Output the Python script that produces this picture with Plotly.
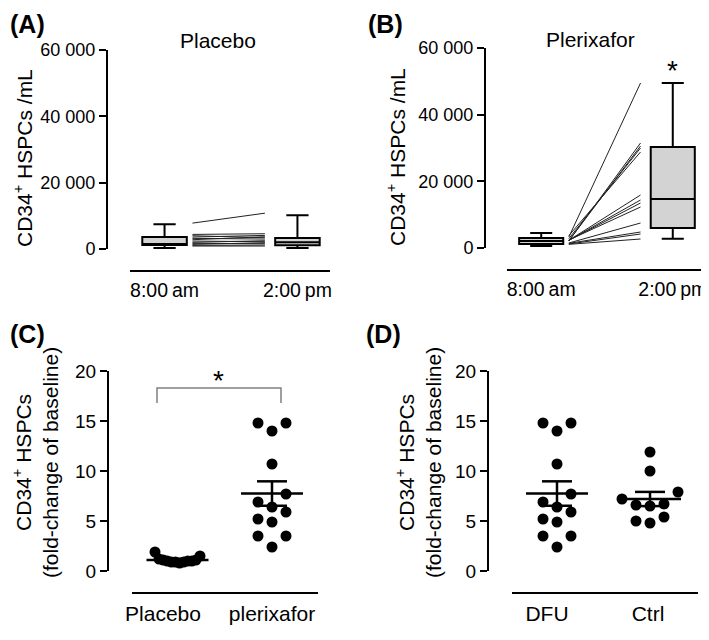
import numpy as np
import plotly.graph_objects as go

# ---------------- data ----------------
time_labels = ["8:00\u2009am", "2:00\u2009pm"]

# Panel A: placebo, box stats at 8:00 am and 2:00 pm
placebo_lower = [300, 300]
placebo_q1 = [1200, 1100]
placebo_median = [1500, 2000]
placebo_q3 = [3600, 3300]
placebo_upper = [7500, 10200]
# paired subject values
placebo_am = [7800, 4400, 4000, 3600, 3200, 2800, 2400, 2000, 1700, 1400, 1100, 900]
placebo_pm = [10800, 4600, 3400, 4100, 3000, 3700, 2200, 2500, 1600, 1900, 1200, 900]

# Panel B: plerixafor
plerixafor_lower = [600, 2800]
plerixafor_q1 = [1200, 6000]
plerixafor_median = [2100, 14700]
plerixafor_q3 = [3000, 30300]
plerixafor_upper = [4500, 49500]
plerixafor_am = [3300, 2100, 2200, 2800, 3700, 2300, 2300, 2300, 2400, 1500, 1400, 1200, 1100]
plerixafor_pm = [49500, 31500, 30600, 30000, 28800, 15900, 14400, 13500, 12300, 7500, 4800, 4200, 2700]

count_ticks = [0, 20000, 40000, 60000]
count_tick_text = ["0", "20 000", "40 000", "60 000"]

# Panel C / D: fold change of baseline
fold_ticks = [0, 5, 10, 15, 20]
group_labels_c = ["Placebo", "plerixafor"]
group_labels_d = ["DFU", "Ctrl"]
fold_placebo = [1.9, 1.5, 1.2, 1.1, 1.1, 1.0, 1.0, 1.0, 0.9, 0.9, 0.9, 0.8]
fold_plerixafor = [14.8, 14.8, 14.0, 10.7, 7.7, 6.9, 6.4, 5.9, 5.2, 4.9, 3.5, 3.5, 2.4]
fold_dfu = [14.8, 14.8, 14.0, 10.7, 7.7, 6.9, 6.4, 5.9, 5.2, 4.9, 3.5, 3.5, 2.4]
fold_ctrl = [11.9, 10.0, 7.9, 7.2, 6.7, 6.6, 6.5, 5.4, 5.0, 4.8]

# ---------------- layout helpers ----------------
W, H = 709, 640
PAGE_OFF = 8  # the page body margin shifts the figure by this many pixels
FONT = "Liberation Sans, Arial, sans-serif"


def fx(p):
    return (p - PAGE_OFF) / W


def fy(p):
    return 1 - (p - PAGE_OFF) / H


def swarm(values, step, max_half, row_gap=1.5):
    """Deterministic beeswarm-style horizontal offsets (in x units)."""
    vals = np.asarray(values, float)
    order = sorted(range(len(vals)), key=lambda i: -vals[i])
    rows, cur = [], []
    for i in order:
        if cur and vals[cur[0]] - vals[i] > row_gap:
            rows.append(cur)
            cur = []
        cur.append(i)
    if cur:
        rows.append(cur)
    off = np.zeros(len(vals))
    for row in rows:
        row = sorted(row, key=lambda i: (vals[i], i))
        n = len(row)
        s = step
        if n > 1 and (n - 1) / 2 * step > max_half:
            s = max_half / ((n - 1) / 2)
        if n % 2:
            slots = [0]
            k = 1
            while len(slots) < n:
                slots += [-k, k]
                k += 1
        else:
            slots = []
            k = 0.5
            while len(slots) < n:
                slots += [k, -k]
                k += 1
        for i, sl in zip(row, slots[:n]):
            off[i] = sl * s
    return off


fig = go.Figure()

axis_common = dict(showgrid=False, zeroline=False, showline=True, linecolor="black",
                   linewidth=2, mirror=False, automargin=False)

# -------- Panels A and B --------
box_x = [0, 1]
line_x = [0.21, 0.755]
xr_ab = [-0.26, 1.245]

panels_ab = [
    ("x", "y", placebo_lower, placebo_q1, placebo_median, placebo_q3, placebo_upper,
     placebo_am, placebo_pm),
    ("x2", "y2", plerixafor_lower, plerixafor_q1, plerixafor_median, plerixafor_q3,
     plerixafor_upper, plerixafor_am, plerixafor_pm),
]
for xa, ya, lo, q1, me, q3, up, am, pm in panels_ab:
    for a, b in zip(am, pm):
        fig.add_trace(go.Scatter(x=line_x, y=[a, b], mode="lines",
                                 line=dict(color="#222222", width=1),
                                 xaxis=xa, yaxis=ya, showlegend=False, hoverinfo="skip"))
    fig.add_trace(go.Box(x=box_x, q1=q1, median=me, q3=q3, lowerfence=lo, upperfence=up,
                         width=0.335, whiskerwidth=0.5, fillcolor="#d3d3d3",
                         line=dict(color="black", width=2), boxpoints=False,
                         xaxis=xa, yaxis=ya, showlegend=False))

# -------- Panels C and D --------
def add_scatter_group(xa, ya, center, vals, step, max_half, px_per_unit):
    vals = np.asarray(vals, float)
    mean = vals.mean()
    sem = vals.std(ddof=1) / np.sqrt(len(vals))
    half_mean = 31 / px_per_unit
    half_cap = 15 / px_per_unit
    fig.add_trace(go.Scatter(x=[center - half_mean, center + half_mean], y=[mean, mean],
                             mode="lines", line=dict(color="black", width=2.5),
                             xaxis=xa, yaxis=ya, showlegend=False, hoverinfo="skip"))
    for yy in (mean - sem, mean + sem):
        fig.add_trace(go.Scatter(x=[center - half_cap, center + half_cap], y=[yy, yy],
                                 mode="lines", line=dict(color="black", width=2.5),
                                 xaxis=xa, yaxis=ya, showlegend=False, hoverinfo="skip"))
    fig.add_trace(go.Scatter(x=[center, center], y=[mean - sem, mean + sem],
                             mode="lines", line=dict(color="black", width=2.5),
                             xaxis=xa, yaxis=ya, showlegend=False, hoverinfo="skip"))
    off = swarm(vals, step / px_per_unit, max_half / px_per_unit)
    fig.add_trace(go.Scatter(x=center + off, y=vals, mode="markers",
                             marker=dict(color="black", size=11, line=dict(width=0)),
                             xaxis=xa, yaxis=ya, showlegend=False, cliponaxis=False))


ppu_c = 94.5
ppu_d = 93.0
add_scatter_group("x3", "y3", 0, fold_placebo, 14, 22.5, ppu_c)
add_scatter_group("x3", "y3", 1, fold_plerixafor, 14, 40, ppu_c)
add_scatter_group("x4", "y4", 0, fold_dfu, 14, 40, ppu_d)
add_scatter_group("x4", "y4", 1, fold_ctrl, 14, 40, ppu_d)

# -------- axes --------
tickfont_ab = dict(family=FONT, size=18, color="black")
tickfont_cd = dict(family=FONT, size=19, color="black")
xlabfont_ab = dict(family=FONT, size=19.5, color="black")
xlabfont_cd = dict(family=FONT, size=21, color="black")

y_common = dict(axis_common, ticks="outside", ticklen=7, tickwidth=2, tickcolor="black")
x_common = dict(axis_common, ticks="outside", ticklen=2, tickcolor="rgba(0,0,0,0)")

fig.update_layout(
    xaxis=dict(x_common, domain=[fx(130), fx(330)], range=xr_ab, anchor="free",
               position=fy(271), tickvals=box_x, ticktext=time_labels, tickfont=xlabfont_ab),
    yaxis=dict(y_common, domain=[fy(249), fy(50)], range=[0, 60000], anchor="free",
               position=fx(107), tickvals=count_ticks, ticktext=count_tick_text,
               tickfont=tickfont_ab),
    xaxis2=dict(x_common, domain=[fx(507), fx(705)], range=xr_ab, anchor="free",
                position=fy(270), tickvals=box_x, ticktext=time_labels, tickfont=xlabfont_ab),
    yaxis2=dict(y_common, domain=[fy(248), fy(48)], range=[0, 60000], anchor="free",
                position=fx(485), tickvals=count_ticks, ticktext=count_tick_text,
                tickfont=tickfont_ab),
    xaxis3=dict(x_common, domain=[fx(132), fx(318)],
                range=[(132 - 177.5) / ppu_c, (318 - 177.5) / ppu_c], anchor="free",
                position=fy(593), tickvals=[(163 - 177.5) / ppu_c, 1],
                ticktext=group_labels_c, tickfont=xlabfont_cd),
    yaxis3=dict(y_common, domain=[fy(571), fy(371)], range=[0, 20], anchor="free",
                position=fx(108), tickvals=fold_ticks, tickfont=tickfont_cd),
    xaxis4=dict(x_common, domain=[fx(512), fx(698)],
                range=[(512 - 557) / ppu_d, (698 - 557) / ppu_d], anchor="free",
                position=fy(593), tickvals=[(547 - 557) / ppu_d, (648 - 557) / ppu_d],
                ticktext=group_labels_d, tickfont=xlabfont_cd),
    yaxis4=dict(y_common, domain=[fy(571), fy(371)], range=[0, 20], anchor="free",
                position=fx(488), tickvals=fold_ticks, tickfont=tickfont_cd),
)

# -------- bracket in C --------
bl = (157 - 177.5) / ppu_c
br = (281 - 177.5) / ppu_c
fig.add_shape(type="path", xref="x3", yref="y3",
              path=f"M {bl},16.8 L {bl},18.3 L {br},18.3 L {br},16.8",
              line=dict(color="#808080", width=1.5))

# -------- annotations --------
ann = []
def text(x, y, s, size, bold=False, angle=0, xanchor="center", yanchor="middle"):
    ann.append(dict(x=x, y=y, xref="paper", yref="paper", text=f"<b>{s}</b>" if bold else s,
                    showarrow=False, textangle=angle, xanchor=xanchor, yanchor=yanchor,
                    font=dict(family=FONT, size=size, color="black")))

text(0, 1, "(A)", 25, bold=True, xanchor="left", yanchor="top")
text(fx(366), 1, "(B)", 25, bold=True, xanchor="left", yanchor="top")
text(0, fy(334), "(C)", 25, bold=True, xanchor="left")
text(fx(384), fy(334), "(D)", 25, bold=True)
text(fx(218), fy(41), "Placebo", 21)
text(fx(590), fy(39), "Plerixafor", 21)
text(fx(23), fy(158), "CD34<sup>+</sup> HSPCs /mL", 21, angle=-90)
text(fx(396), fy(157), "CD34<sup>+</sup> HSPCs /mL", 21, angle=-90)
text(fx(35), fy(463), "CD34<sup>+</sup> HSPCs<br>(fold-change of baseline)", 21, angle=-90)
text(fx(418), fy(463), "CD34<sup>+</sup> HSPCs<br>(fold-change of baseline)", 21, angle=-90)
text(fx(672), fy(70), "*", 28)
text(fx(218), fy(380), "*", 28)

fig.update_layout(annotations=ann, width=W, height=H,
                  margin=dict(l=0, r=0, t=0, b=0, pad=0, autoexpand=False),
                  plot_bgcolor="white", paper_bgcolor="white", showlegend=False,
                  font=dict(family=FONT, color="black"))

fig.write_html("out.html")
